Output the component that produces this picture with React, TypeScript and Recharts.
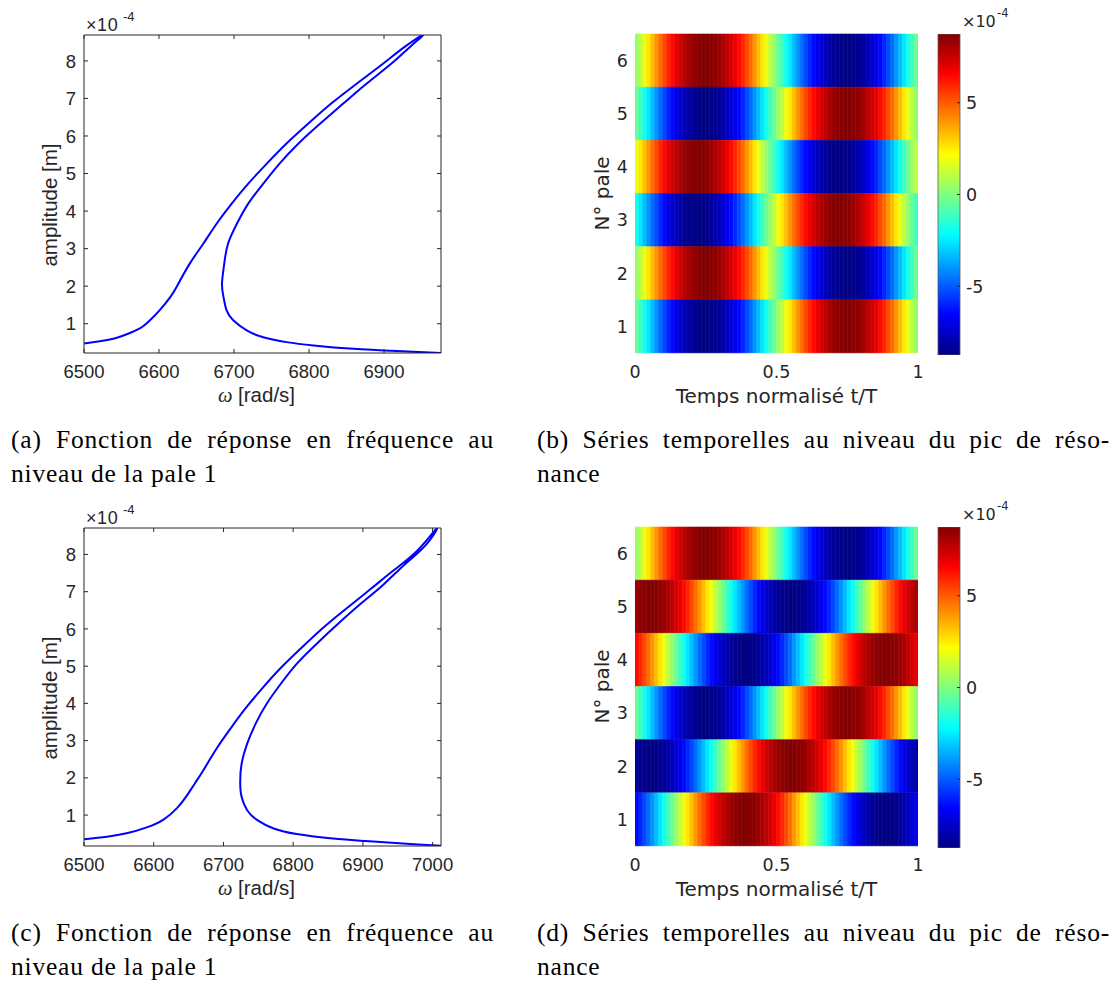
import React from "react";
import { LineChart, Line, XAxis, YAxis, BarChart, Bar, Cell } from "recharts";

// --- Styling ---

const AXIS = "#262626";
const FRF_FONT = "'Liberation Sans', Arial, sans-serif";
const HEAT_FONT = "'DejaVu Sans', sans-serif";
const CAPTION_FONT = "'Liberation Serif', 'Times New Roman', serif";

// --- Data: frequency response (amplitude in 1e-4 m) ---

// (a) lower/left branch up to the peak, then back down the right branch
const FRF_A_OMEGA = [
  6500, 6521, 6539, 6557, 6575, 6588, 6601, 6615, 6624, 6641, 6659, 6677, 6697, 6719, 6744,
  6770, 6799, 6830, 6864, 6899, 6928, 6952, 6935, 6910, 6877, 6846, 6815, 6786, 6761, 6739,
  6719, 6704, 6692, 6687, 6684, 6686, 6690, 6699, 6717, 6739, 6770, 6806, 6859, 6917, 6976,
];
const FRF_A_AMP = [
  0.47, 0.53, 0.6, 0.72, 0.88, 1.09, 1.36, 1.71, 2.0, 2.6, 3.13, 3.67, 4.2, 4.73, 5.27,
  5.8, 6.33, 6.87, 7.4, 7.93, 8.38, 8.69, 8.38, 7.93, 7.4, 6.87, 6.33, 5.8, 5.27, 4.73,
  4.2, 3.67, 3.13, 2.6, 2.07, 1.71, 1.36, 1.09, 0.82, 0.64, 0.51, 0.42, 0.33, 0.27, 0.22,
];

// (c)
const FRF_C_OMEGA = [
  6500, 6533, 6561, 6590, 6614, 6633, 6647, 6659, 6671, 6690, 6710, 6731, 6755, 6781, 6810,
  6841, 6875, 6911, 6946, 6980, 7006, 6991, 6960, 6930, 6896, 6864, 6833, 6805, 6782, 6762,
  6746, 6734, 6726, 6724, 6726, 6734, 6748, 6772, 6805, 6853, 6915, 6973, 7012,
];
const FRF_C_AMP = [
  0.35, 0.42, 0.51, 0.67, 0.88, 1.18, 1.51, 1.85, 2.2, 2.78, 3.32, 3.85, 4.39, 4.93, 5.46,
  6.0, 6.53, 7.07, 7.6, 8.14, 8.7, 8.27, 7.73, 7.2, 6.66, 6.13, 5.59, 5.06, 4.52, 3.99,
  3.45, 2.92, 2.38, 1.89, 1.49, 1.13, 0.87, 0.64, 0.49, 0.38, 0.29, 0.22, 0.18,
];

const FRF_Y_TICKS = [1, 2, 3, 4, 5, 6, 7, 8];
const FRF_A_X_TICKS = [6500, 6600, 6700, 6800, 6900];
const FRF_C_X_TICKS = [6500, 6600, 6700, 6800, 6900, 7000];

// --- Data: time series per blade (1e-4 m), 72 samples over one period ---

const BLADES = ["6", "5", "4", "3", "2", "1"];
const HEAT_X_TICKS = [0, 0.5, 1];
const CB_TICKS = [-5, 0, 5];
const CB_MIN = -8.75;
const CB_MAX = 8.75;

// (b) standing pattern
const B_BLADE6 = [0.4, 1.1, 1.9, 2.6, 3.3, 4.0, 4.7, 5.3, 5.9, 6.4, 6.9, 7.3, 7.7, 8.0, 8.3, 8.5, 8.6, 8.7, 8.7, 8.6, 8.5, 8.3, 8.0, 7.7, 7.3, 6.9, 6.4, 5.9, 5.3, 4.7, 4.0, 3.3, 2.6, 1.9, 1.1, 0.4, -0.4, -1.1, -1.9, -2.6, -3.3, -4.0, -4.7, -5.3, -5.9, -6.4, -6.9, -7.3, -7.7, -8.0, -8.3, -8.5, -8.6, -8.7, -8.7, -8.6, -8.5, -8.3, -8.0, -7.7, -7.3, -6.9, -6.4, -5.9, -5.3, -4.7, -4.0, -3.3, -2.6, -1.9, -1.1, -0.4];
const B_BLADE5 = [-0.4, -1.1, -1.9, -2.6, -3.3, -4.0, -4.7, -5.3, -5.9, -6.4, -6.9, -7.3, -7.7, -8.0, -8.3, -8.5, -8.6, -8.7, -8.7, -8.6, -8.5, -8.3, -8.0, -7.7, -7.3, -6.9, -6.4, -5.9, -5.3, -4.7, -4.0, -3.3, -2.6, -1.9, -1.1, -0.4, 0.4, 1.1, 1.9, 2.6, 3.3, 4.0, 4.7, 5.3, 5.9, 6.4, 6.9, 7.3, 7.7, 8.0, 8.3, 8.5, 8.6, 8.7, 8.7, 8.6, 8.5, 8.3, 8.0, 7.7, 7.3, 6.9, 6.4, 5.9, 5.3, 4.7, 4.0, 3.3, 2.6, 1.9, 1.1, 0.4];
const B_BLADE4 = [1.9, 2.6, 3.3, 4.0, 4.7, 5.3, 5.9, 6.4, 6.9, 7.3, 7.7, 8.0, 8.3, 8.5, 8.6, 8.7, 8.7, 8.6, 8.5, 8.3, 8.0, 7.7, 7.3, 6.9, 6.4, 5.9, 5.3, 4.7, 4.0, 3.3, 2.6, 1.9, 1.1, 0.4, -0.4, -1.1, -1.9, -2.6, -3.3, -4.0, -4.7, -5.3, -5.9, -6.4, -6.9, -7.3, -7.7, -8.0, -8.3, -8.5, -8.6, -8.7, -8.7, -8.6, -8.5, -8.3, -8.0, -7.7, -7.3, -6.9, -6.4, -5.9, -5.3, -4.7, -4.0, -3.3, -2.6, -1.9, -1.1, -0.4, 0.4, 1.1];
const B_BLADE3 = [-1.9, -2.6, -3.3, -4.0, -4.7, -5.3, -5.9, -6.4, -6.9, -7.3, -7.7, -8.0, -8.3, -8.5, -8.6, -8.7, -8.7, -8.6, -8.5, -8.3, -8.0, -7.7, -7.3, -6.9, -6.4, -5.9, -5.3, -4.7, -4.0, -3.3, -2.6, -1.9, -1.1, -0.4, 0.4, 1.1, 1.9, 2.6, 3.3, 4.0, 4.7, 5.3, 5.9, 6.4, 6.9, 7.3, 7.7, 8.0, 8.3, 8.5, 8.6, 8.7, 8.7, 8.6, 8.5, 8.3, 8.0, 7.7, 7.3, 6.9, 6.4, 5.9, 5.3, 4.7, 4.0, 3.3, 2.6, 1.9, 1.1, 0.4, -0.4, -1.1];
const B_BLADE2 = [0.4, 1.1, 1.9, 2.6, 3.3, 4.0, 4.7, 5.3, 5.9, 6.4, 6.9, 7.3, 7.7, 8.0, 8.3, 8.5, 8.6, 8.7, 8.7, 8.6, 8.5, 8.3, 8.0, 7.7, 7.3, 6.9, 6.4, 5.9, 5.3, 4.7, 4.0, 3.3, 2.6, 1.9, 1.1, 0.4, -0.4, -1.1, -1.9, -2.6, -3.3, -4.0, -4.7, -5.3, -5.9, -6.4, -6.9, -7.3, -7.7, -8.0, -8.3, -8.5, -8.6, -8.7, -8.7, -8.6, -8.5, -8.3, -8.0, -7.7, -7.3, -6.9, -6.4, -5.9, -5.3, -4.7, -4.0, -3.3, -2.6, -1.9, -1.1, -0.4];
const B_BLADE1 = [-0.4, -1.1, -1.9, -2.6, -3.3, -4.0, -4.7, -5.3, -5.9, -6.4, -6.9, -7.3, -7.7, -8.0, -8.3, -8.5, -8.6, -8.7, -8.7, -8.6, -8.5, -8.3, -8.0, -7.7, -7.3, -6.9, -6.4, -5.9, -5.3, -4.7, -4.0, -3.3, -2.6, -1.9, -1.1, -0.4, 0.4, 1.1, 1.9, 2.6, 3.3, 4.0, 4.7, 5.3, 5.9, 6.4, 6.9, 7.3, 7.7, 8.0, 8.3, 8.5, 8.6, 8.7, 8.7, 8.6, 8.5, 8.3, 8.0, 7.7, 7.3, 6.9, 6.4, 5.9, 5.3, 4.7, 4.0, 3.3, 2.6, 1.9, 1.1, 0.4];

// (d) travelling pattern
const D_BLADE6 = [0.4, 1.1, 1.9, 2.6, 3.3, 4.0, 4.7, 5.3, 5.9, 6.4, 6.9, 7.3, 7.7, 8.0, 8.3, 8.5, 8.6, 8.7, 8.7, 8.6, 8.5, 8.3, 8.0, 7.7, 7.3, 6.9, 6.4, 5.9, 5.3, 4.7, 4.0, 3.3, 2.6, 1.9, 1.1, 0.4, -0.4, -1.1, -1.9, -2.6, -3.3, -4.0, -4.7, -5.3, -5.9, -6.4, -6.9, -7.3, -7.7, -8.0, -8.3, -8.5, -8.6, -8.7, -8.7, -8.6, -8.5, -8.3, -8.0, -7.7, -7.3, -6.9, -6.4, -5.9, -5.3, -4.7, -4.0, -3.3, -2.6, -1.9, -1.1, -0.4];
const D_BLADE5 = [8.3, 8.5, 8.6, 8.7, 8.7, 8.6, 8.5, 8.3, 8.0, 7.7, 7.3, 6.9, 6.4, 5.9, 5.3, 4.7, 4.0, 3.3, 2.6, 1.9, 1.1, 0.4, -0.4, -1.1, -1.9, -2.6, -3.3, -4.0, -4.7, -5.3, -5.9, -6.4, -6.9, -7.3, -7.7, -8.0, -8.3, -8.5, -8.6, -8.7, -8.7, -8.6, -8.5, -8.3, -8.0, -7.7, -7.3, -6.9, -6.4, -5.9, -5.3, -4.7, -4.0, -3.3, -2.6, -1.9, -1.1, -0.4, 0.4, 1.1, 1.9, 2.6, 3.3, 4.0, 4.7, 5.3, 5.9, 6.4, 6.9, 7.3, 7.7, 8.0];
const D_BLADE4 = [6.4, 5.9, 5.3, 4.7, 4.0, 3.3, 2.6, 1.9, 1.1, 0.4, -0.4, -1.1, -1.9, -2.6, -3.3, -4.0, -4.7, -5.3, -5.9, -6.4, -6.9, -7.3, -7.7, -8.0, -8.3, -8.5, -8.6, -8.7, -8.7, -8.6, -8.5, -8.3, -8.0, -7.7, -7.3, -6.9, -6.4, -5.9, -5.3, -4.7, -4.0, -3.3, -2.6, -1.9, -1.1, -0.4, 0.4, 1.1, 1.9, 2.6, 3.3, 4.0, 4.7, 5.3, 5.9, 6.4, 6.9, 7.3, 7.7, 8.0, 8.3, 8.5, 8.6, 8.7, 8.7, 8.6, 8.5, 8.3, 8.0, 7.7, 7.3, 6.9];
const D_BLADE3 = [-0.4, -1.1, -1.9, -2.6, -3.3, -4.0, -4.7, -5.3, -5.9, -6.4, -6.9, -7.3, -7.7, -8.0, -8.3, -8.5, -8.6, -8.7, -8.7, -8.6, -8.5, -8.3, -8.0, -7.7, -7.3, -6.9, -6.4, -5.9, -5.3, -4.7, -4.0, -3.3, -2.6, -1.9, -1.1, -0.4, 0.4, 1.1, 1.9, 2.6, 3.3, 4.0, 4.7, 5.3, 5.9, 6.4, 6.9, 7.3, 7.7, 8.0, 8.3, 8.5, 8.6, 8.7, 8.7, 8.6, 8.5, 8.3, 8.0, 7.7, 7.3, 6.9, 6.4, 5.9, 5.3, 4.7, 4.0, 3.3, 2.6, 1.9, 1.1, 0.4];
const D_BLADE2 = [-8.3, -8.5, -8.6, -8.7, -8.7, -8.6, -8.5, -8.3, -8.0, -7.7, -7.3, -6.9, -6.4, -5.9, -5.3, -4.7, -4.0, -3.3, -2.6, -1.9, -1.1, -0.4, 0.4, 1.1, 1.9, 2.6, 3.3, 4.0, 4.7, 5.3, 5.9, 6.4, 6.9, 7.3, 7.7, 8.0, 8.3, 8.5, 8.6, 8.7, 8.7, 8.6, 8.5, 8.3, 8.0, 7.7, 7.3, 6.9, 6.4, 5.9, 5.3, 4.7, 4.0, 3.3, 2.6, 1.9, 1.1, 0.4, -0.4, -1.1, -1.9, -2.6, -3.3, -4.0, -4.7, -5.3, -5.9, -6.4, -6.9, -7.3, -7.7, -8.0];
const D_BLADE1 = [-6.4, -5.9, -5.3, -4.7, -4.0, -3.3, -2.6, -1.9, -1.1, -0.4, 0.4, 1.1, 1.9, 2.6, 3.3, 4.0, 4.7, 5.3, 5.9, 6.4, 6.9, 7.3, 7.7, 8.0, 8.3, 8.5, 8.6, 8.7, 8.7, 8.6, 8.5, 8.3, 8.0, 7.7, 7.3, 6.9, 6.4, 5.9, 5.3, 4.7, 4.0, 3.3, 2.6, 1.9, 1.1, 0.4, -0.4, -1.1, -1.9, -2.6, -3.3, -4.0, -4.7, -5.3, -5.9, -6.4, -6.9, -7.3, -7.7, -8.0, -8.3, -8.5, -8.6, -8.7, -8.7, -8.6, -8.5, -8.3, -8.0, -7.7, -7.3, -6.9];

// --- Helpers ---

/** MATLAB-style jet colormap */
function jet(v: number): string {
  const t = Math.max(0, Math.min(1, (v - CB_MIN) / (CB_MAX - CB_MIN)));
  const ch = (c: number) => Math.round(255 * Math.max(0, Math.min(1, 1.5 - Math.abs(4 * t - c))));
  return `rgb(${ch(3)},${ch(2)},${ch(1)})`;
}

type TickProps = { x?: number; y?: number; payload?: { value: number | string } };

// --- FRF panel ---

const frfBottomTick = ({ x = 0, y = 0, payload }: TickProps) => (
  <g>
    <line x1={x} y1={y} x2={x} y2={y - 4} stroke={AXIS} />
    <text x={x} y={y + 25} textAnchor="middle" fontFamily={FRF_FONT} fontSize={18.5} fill={AXIS}>
      {payload?.value}
    </text>
  </g>
);

const frfLeftTick = ({ x = 0, y = 0, payload }: TickProps) => (
  <g>
    <line x1={x} y1={y} x2={x + 4} y2={y} stroke={AXIS} />
    <text x={x - 8} y={y + 6.6} textAnchor="end" fontFamily={FRF_FONT} fontSize={18.5} fill={AXIS}>
      {payload?.value}
    </text>
  </g>
);

const frfTopTick = ({ x = 0, y = 0 }: TickProps) => (
  <line x1={x} y1={y} x2={x} y2={y + 4} stroke={AXIS} />
);

const frfRightTick = ({ x = 0, y = 0 }: TickProps) => (
  <line x1={x} y1={y} x2={x - 4} y2={y} stroke={AXIS} />
);

interface FrfProps {
  top: number;
  omega: number[];
  amp: number[];
  xDomain: [number, number];
  yDomain: [number, number];
  xTicks: number[];
}

function FrfPanel({ top, omega, amp, xDomain, yDomain, xTicks }: FrfProps) {
  const data = omega.map((w, i) => ({ w, a: amp[i] }));
  return (
    <div style={{ position: "absolute", left: 0, top }}>
      <LineChart width={470} height={420} data={data} margin={{ top: 34, right: 28, bottom: 7, left: 24 }}>
        <XAxis
          xAxisId="b"
          dataKey="w"
          type="number"
          domain={xDomain}
          ticks={xTicks}
          allowDataOverflow
          interval={0}
          tickSize={0}
          tickMargin={0}
          height={60}
          stroke={AXIS}
          tick={frfBottomTick}
          label={(p: any) => {
            const vb = p.viewBox || {};
            return (
              <text x={vb.x + vb.width / 2 - 6} y={vb.y + 48.5} textAnchor="middle" fontFamily={FRF_FONT} fontSize={20.5} fill={AXIS}>
                <tspan fontFamily={CAPTION_FONT} fontStyle="italic">ω</tspan> [rad/s]
              </text>
            );
          }}
        />
        <XAxis
          xAxisId="t"
          dataKey="w"
          orientation="top"
          type="number"
          domain={xDomain}
          ticks={xTicks}
          allowDataOverflow
          interval={0}
          tickSize={0}
          tickMargin={0}
          height={1}
          stroke={AXIS}
          tick={frfTopTick}
          label={(p: any) => {
            const vb = p.viewBox || {};
            const base = vb.y + vb.height;
            return (
              <g fontFamily={FRF_FONT} fill={AXIS}>
                <text x={vb.x + 2} y={base - 4.3} fontSize={18} letterSpacing={0.6}>×10</text>
                <text x={vb.x + 39} y={base - 14.3} fontSize={13}>-4</text>
              </g>
            );
          }}
        />
        <YAxis
          yAxisId="l"
          type="number"
          domain={yDomain}
          ticks={FRF_Y_TICKS}
          allowDataOverflow
          interval={0}
          tickSize={0}
          tickMargin={0}
          width={60}
          stroke={AXIS}
          tick={frfLeftTick}
          label={(p: any) => {
            const vb = p.viewBox || {};
            const cx = vb.x + 33;
            const cy = vb.y + vb.height / 2 + 11;
            return (
              <text x={cx} y={cy} transform={`rotate(-90 ${cx} ${cy})`} textAnchor="middle" fontFamily={FRF_FONT} fontSize={20.5} fill={AXIS}>
                amplitude [m]
              </text>
            );
          }}
        />
        <YAxis
          yAxisId="r"
          orientation="right"
          type="number"
          domain={yDomain}
          ticks={FRF_Y_TICKS}
          allowDataOverflow
          interval={0}
          tickSize={0}
          tickMargin={0}
          width={1}
          stroke={AXIS}
          tick={frfRightTick}
        />
        {/* invisible twin so the top/right frame axes get a domain */}
        <Line xAxisId="t" yAxisId="r" dataKey="a" stroke="none" dot={false} activeDot={false} isAnimationActive={false} />
        <Line
          xAxisId="b"
          yAxisId="l"
          dataKey="a"
          type="natural"
          stroke="#0000ff"
          strokeWidth={2}
          dot={false}
          activeDot={false}
          isAnimationActive={false}
        />
      </LineChart>
    </div>
  );
}

// --- Heatmap panel with colorbar ---

const HEAT_CELLS = 72;
const CELL_KEYS = Array.from({ length: HEAT_CELLS }, (_, k) => `c${k}`);

const heatLeftTick = ({ x = 0, y = 0, payload }: TickProps) => (
  <text x={x - 7} y={y + 6.3} textAnchor="end" fontFamily={HEAT_FONT} fontSize={17.5} fill={AXIS}>
    {payload?.value}
  </text>
);

const heatBottomTick = ({ x = 0, y = 0, payload }: TickProps) => (
  <text x={x} y={y + 25} textAnchor="middle" fontFamily={HEAT_FONT} fontSize={17.5} fill={AXIS}>
    {payload?.value}
  </text>
);

const cbRightTick = ({ x = 0, y = 0, payload }: TickProps) => (
  <g>
    <line x1={x} y1={y} x2={x - 3} y2={y} stroke={AXIS} />
    <text x={x + 6} y={y + 6.3} textAnchor="start" fontFamily={HEAT_FONT} fontSize={17.5} fill={AXIS}>
      {payload?.value}
    </text>
  </g>
);

function HeatPanel({ top, rows, gradId }: { top: number; rows: number[][]; gradId: string }) {
  const table = BLADES.map((blade) => {
    const row: Record<string, number | string> = { blade };
    CELL_KEYS.forEach((key) => {
      row[key] = 1 / HEAT_CELLS;
    });
    return row;
  });
  const cbData = [{ name: "cb", range: [CB_MIN, CB_MAX] }];

  return (
    <>
      <div style={{ position: "absolute", left: 560, top }}>
        <BarChart
          width={380}
          height={420}
          data={table}
          layout="vertical"
          barCategoryGap={0}
          barGap={0}
          margin={{ top: 34, right: 22, bottom: 17, left: 30 }}
        >
          <XAxis
            type="number"
            domain={[0, 1]}
            ticks={HEAT_X_TICKS}
            allowDataOverflow
            interval={0}
            tickSize={0}
            tickMargin={0}
            height={50}
            axisLine={false}
            tick={heatBottomTick}
            label={(p: any) => {
              const vb = p.viewBox || {};
              return (
                <text x={vb.x + vb.width / 2} y={vb.y + 49.7} textAnchor="middle" fontFamily={HEAT_FONT} fontSize={20} fill={AXIS}>
                  Temps normalisé t/T
                </text>
              );
            }}
          />
          <YAxis
            type="category"
            dataKey="blade"
            width={45}
            interval={0}
            tickSize={0}
            tickMargin={0}
            axisLine={false}
            tick={heatLeftTick}
            label={(p: any) => {
              const vb = p.viewBox || {};
              const cx = vb.x + 19;
              const cy = vb.y + vb.height / 2;
              return (
                <text x={cx} y={cy} transform={`rotate(-90 ${cx} ${cy})`} textAnchor="middle" fontFamily={HEAT_FONT} fontSize={20} fill={AXIS}>
                  N° pale
                </text>
              );
            }}
          />
          {CELL_KEYS.map((key, k) => (
            <Bar key={key} dataKey={key} stackId="t" isAnimationActive={false}>
              {rows.map((vals, i) => {
                const c = jet(vals[k]);
                return <Cell key={`${key}-${i}`} fill={c} stroke={c} strokeWidth={0.6} />;
              })}
            </Bar>
          ))}
        </BarChart>
      </div>
      <div style={{ position: "absolute", left: 930, top }}>
        <BarChart
          width={90}
          height={420}
          data={cbData}
          barCategoryGap={0}
          margin={{ top: 34, right: 10, bottom: 65, left: 8 }}
        >
          <defs>
            <linearGradient id={gradId} x1="0" y1="1" x2="0" y2="0">
              <stop offset="0" stopColor="rgb(0,0,128)" />
              <stop offset="0.125" stopColor="rgb(0,0,255)" />
              <stop offset="0.375" stopColor="rgb(0,255,255)" />
              <stop offset="0.625" stopColor="rgb(255,255,0)" />
              <stop offset="0.875" stopColor="rgb(255,0,0)" />
              <stop offset="1" stopColor="rgb(128,0,0)" />
            </linearGradient>
          </defs>
          <XAxis dataKey="name" type="category" hide />
          <YAxis
            orientation="right"
            type="number"
            domain={[CB_MIN, CB_MAX]}
            ticks={CB_TICKS}
            allowDataOverflow
            interval={0}
            tickSize={0}
            tickMargin={0}
            width={50}
            axisLine={false}
            tick={cbRightTick}
            label={(p: any) => {
              const vb = p.viewBox || {};
              return (
                <g fontFamily={HEAT_FONT} fill={AXIS}>
                  <text x={vb.x + 2} y={vb.y - 7.5} fontSize={16}>×10</text>
                  <text x={vb.x + 37} y={vb.y - 17.5} fontSize={11.5}>-4</text>
                </g>
              );
            }}
          />
          <Bar dataKey="range" fill={`url(#${gradId})`} stroke="#5a5a5a" strokeWidth={0.8} isAnimationActive={false} />
        </BarChart>
      </div>
    </>
  );
}

// --- Captions ---

function Caption({ left, top, width, first, second }: { left: number; top: number; width: number; first: string; second: string }) {
  const line = { lineHeight: "34px", height: 34 } as const;
  return (
    <div style={{ position: "absolute", left, top, width, fontFamily: CAPTION_FONT, fontSize: 25.5, letterSpacing: 0.8, color: "#000" }}>
      <div style={{ ...line, textAlign: "justify", textAlignLast: "justify" }}>{first}</div>
      <div style={line}>{second}</div>
    </div>
  );
}

const ROW2 = 493;

export default function App() {
  return (
    <div style={{ position: "absolute", left: 0, top: 0, width: 1114, height: 984, background: "#fff", overflow: "hidden" }}>
      <FrfPanel top={0} omega={FRF_A_OMEGA} amp={FRF_A_AMP} xDomain={[6500, 6976]} yDomain={[0.22, 8.69]} xTicks={FRF_A_X_TICKS} />
      <HeatPanel top={0} rows={[B_BLADE6, B_BLADE5, B_BLADE4, B_BLADE3, B_BLADE2, B_BLADE1]} gradId="jet-b" />
      <FrfPanel top={ROW2} omega={FRF_C_OMEGA} amp={FRF_C_AMP} xDomain={[6500, 7012]} yDomain={[0.17, 8.71]} xTicks={FRF_C_X_TICKS} />
      <HeatPanel top={ROW2} rows={[D_BLADE6, D_BLADE5, D_BLADE4, D_BLADE3, D_BLADE2, D_BLADE1]} gradId="jet-d" />

      <Caption left={11} top={423} width={483} first="(a) Fonction de réponse en fréquence au" second="niveau de la pale 1" />
      <Caption left={537} top={423} width={573} first="(b) Séries temporelles au niveau du pic de réso-" second="nance" />
      <Caption left={11} top={423 + ROW2} width={483} first="(c) Fonction de réponse en fréquence au" second="niveau de la pale 1" />
      <Caption left={537} top={423 + ROW2} width={573} first="(d) Séries temporelles au niveau du pic de réso-" second="nance" />
    </div>
  );
}
